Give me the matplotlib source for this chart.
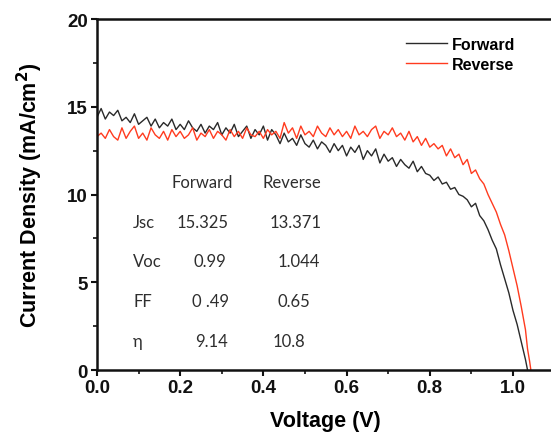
import matplotlib
matplotlib.use("Agg")
import matplotlib.pyplot as plt
from matplotlib.ticker import MultipleLocator, FormatStrFormatter

# ---- data ----
v_forward = [0.00, 0.01, 0.02, 0.03, 0.04, 0.05, 0.06, 0.07, 0.08, 0.09,
             0.10, 0.11, 0.12, 0.13, 0.14, 0.15, 0.16, 0.17, 0.18, 0.19,
             0.20, 0.21, 0.22, 0.23, 0.24, 0.25, 0.26, 0.27, 0.28, 0.29,
             0.30, 0.31, 0.32, 0.33, 0.34, 0.35, 0.36, 0.37, 0.38, 0.39,
             0.40, 0.41, 0.42, 0.43, 0.44, 0.45, 0.46, 0.47, 0.48, 0.49,
             0.50, 0.51, 0.52, 0.53, 0.54, 0.55, 0.56, 0.57, 0.58, 0.59,
             0.60, 0.61, 0.62, 0.63, 0.64, 0.65, 0.66, 0.67, 0.68, 0.69,
             0.70, 0.71, 0.72, 0.73, 0.74, 0.75, 0.76, 0.77, 0.78, 0.79,
             0.80, 0.81, 0.82, 0.83, 0.84, 0.85, 0.86, 0.87, 0.88, 0.89,
             0.90, 0.91, 0.92, 0.93, 0.94, 0.95, 0.96, 0.97, 0.98, 0.99,
             1.00, 1.01, 1.02, 1.03, 1.035]
j_forward = [14.4, 14.9, 14.3, 14.7, 14.5, 14.8, 14.2, 14.4, 14.1, 14.6,
             14.0, 14.2, 14.4, 13.9, 14.3, 13.8, 14.1, 13.9, 14.3, 13.7,
             14.0, 13.7, 14.2, 13.8, 13.6, 14.0, 13.5, 13.9, 13.7, 14.1,
             13.4, 13.8, 13.5, 14.0, 13.3, 13.6, 13.9, 13.2, 13.7, 13.4,
             13.9, 13.1, 13.7, 13.4, 12.9, 13.5, 13.0, 13.2, 12.8, 13.4,
             12.9, 12.7, 13.1, 12.6, 13.0, 12.8, 12.4, 12.9, 12.5, 12.8,
             12.2, 12.7, 12.4, 12.8, 12.0, 12.5, 12.2, 12.6, 11.8, 12.3,
             11.9, 12.1, 11.6, 12.0, 11.7, 11.5, 11.9, 11.3, 11.6, 11.2,
             11.1, 10.8, 11.0, 10.6, 10.7, 10.3, 10.4, 10.0, 9.9, 9.7,
             9.3, 9.5, 8.8, 8.5, 8.0, 7.4, 6.9, 6.0, 5.2, 4.4,
             3.4, 2.6, 1.6, 0.6, 0.0]

v_reverse = [0.00, 0.01, 0.02, 0.03, 0.04, 0.05, 0.06, 0.07, 0.08, 0.09,
             0.10, 0.11, 0.12, 0.13, 0.14, 0.15, 0.16, 0.17, 0.18, 0.19,
             0.20, 0.21, 0.22, 0.23, 0.24, 0.25, 0.26, 0.27, 0.28, 0.29,
             0.30, 0.31, 0.32, 0.33, 0.34, 0.35, 0.36, 0.37, 0.38, 0.39,
             0.40, 0.41, 0.42, 0.43, 0.44, 0.45, 0.46, 0.47, 0.48, 0.49,
             0.50, 0.51, 0.52, 0.53, 0.54, 0.55, 0.56, 0.57, 0.58, 0.59,
             0.60, 0.61, 0.62, 0.63, 0.64, 0.65, 0.66, 0.67, 0.68, 0.69,
             0.70, 0.71, 0.72, 0.73, 0.74, 0.75, 0.76, 0.77, 0.78, 0.79,
             0.80, 0.81, 0.82, 0.83, 0.84, 0.85, 0.86, 0.87, 0.88, 0.89,
             0.90, 0.91, 0.92, 0.93, 0.94, 0.95, 0.96, 0.97, 0.98, 0.99,
             1.00, 1.01, 1.02, 1.03, 1.035, 1.04, 1.043]
j_reverse = [13.3, 13.5, 13.2, 13.7, 13.3, 13.1, 13.8, 13.2, 13.6, 13.9,
             13.2, 13.5, 13.1, 13.8, 13.4, 13.2, 13.6, 13.1, 13.7, 13.3,
             13.6, 13.2, 13.4, 13.8, 13.1, 13.5, 13.3, 13.7, 13.2, 13.6,
             13.4, 13.1, 13.7, 13.3, 13.6, 13.2, 13.8, 13.4, 13.3, 13.6,
             13.2, 13.7, 13.4, 13.6, 13.2, 14.1, 13.5, 13.8, 13.2, 13.9,
             13.4, 13.6, 13.3, 13.9, 13.5, 13.3, 13.8, 13.4, 13.7, 13.3,
             13.6, 13.2, 13.9, 13.4, 13.6, 13.3, 13.7, 13.9, 13.2, 13.6,
             13.4, 13.8, 13.3, 13.5, 13.1, 13.6, 13.0, 13.3, 12.8, 13.2,
             12.7, 12.9, 12.6, 12.8, 12.2, 12.6, 12.1, 12.3, 11.7, 12.0,
             11.2, 11.4, 10.9, 10.6, 10.0, 9.5, 9.0, 8.3, 7.7, 6.8,
             5.8, 4.8, 3.6, 2.3, 1.2, 0.5, 0.0]

series_labels = ["Forward", "Reverse"]
table_header = ["Forward", "Reverse"]
table_params = ["Jsc", "Voc", "FF", "\u03b7"]
table_forward = ["15.325", "0.99", "0 .49", "9.14"]
table_reverse = ["13.371", "1.044", "0.65", "10.8"]

# ---- figure ----
fig = plt.figure(figsize=(5.51, 4.35), dpi=100)
ax = fig.add_axes([0.176, 0.147, 0.8305, 0.807])

ax.plot(v_forward, j_forward, color="#2a2a2a", lw=1.0, label=series_labels[0])
ax.plot(v_reverse, j_reverse, color="#ff3b1f", lw=1.0, label=series_labels[1])

ax.set_xlim(0, 1.1)
ax.set_ylim(0, 20)
ax.xaxis.set_major_locator(MultipleLocator(0.2))
ax.xaxis.set_minor_locator(MultipleLocator(0.1))
ax.yaxis.set_major_locator(MultipleLocator(5))
ax.yaxis.set_minor_locator(MultipleLocator(2.5))
ax.xaxis.set_major_formatter(FormatStrFormatter("%.1f"))

for s in ax.spines.values():
    s.set_linewidth(1.8)
    s.set_color("#111111")

ax.tick_params(which="major", direction="out", length=4.5, width=1.5,
               labelsize=13.5, pad=2, colors="#111111")
ax.tick_params(which="minor", direction="out", length=3, width=1.2, colors="#111111")
for lab in ax.get_xticklabels() + ax.get_yticklabels():
    lab.set_fontweight("bold")
    lab.set_family("Liberation Sans")

ax.set_xlabel("Voltage (V)", fontsize=15.5, fontweight="bold",
              family="Liberation Sans", labelpad=10)
ax.set_ylabel("Current Density (mA/cm$^\\mathbf{2}$)", fontsize=15.5, fontweight="bold",
              family="Liberation Sans", labelpad=16)

leg = ax.legend(loc="upper left", bbox_to_anchor=(0.643, 0.99), frameon=False,
                handlelength=2.6, handletextpad=0.3, labelspacing=0.3,
                prop={"family": "Liberation Sans", "weight": "bold", "size": 11.5})

# ---- parameter table ----
tf = {"family": "Lato", "fontsize": 12, "color": "#2e2e2e"}
ax.text(0.18, 10.74, table_header[0], va="center", ha="left", **tf)
ax.text(0.397, 10.74, table_header[1], va="center", ha="left", **tf)
row_y = [8.46, 6.23, 3.94, 1.66]
fwd_x = [0.192, 0.231, 0.228, 0.236]
rev_x = [0.416, 0.433, 0.433, 0.421]
for i in range(4):
    ax.text(0.087, row_y[i], table_params[i], va="center", ha="left", **tf)
    ax.text(fwd_x[i], row_y[i], table_forward[i], va="center", ha="left", **tf)
    ax.text(rev_x[i], row_y[i], table_reverse[i], va="center", ha="left", **tf)

fig.savefig("out.png", dpi=100)
